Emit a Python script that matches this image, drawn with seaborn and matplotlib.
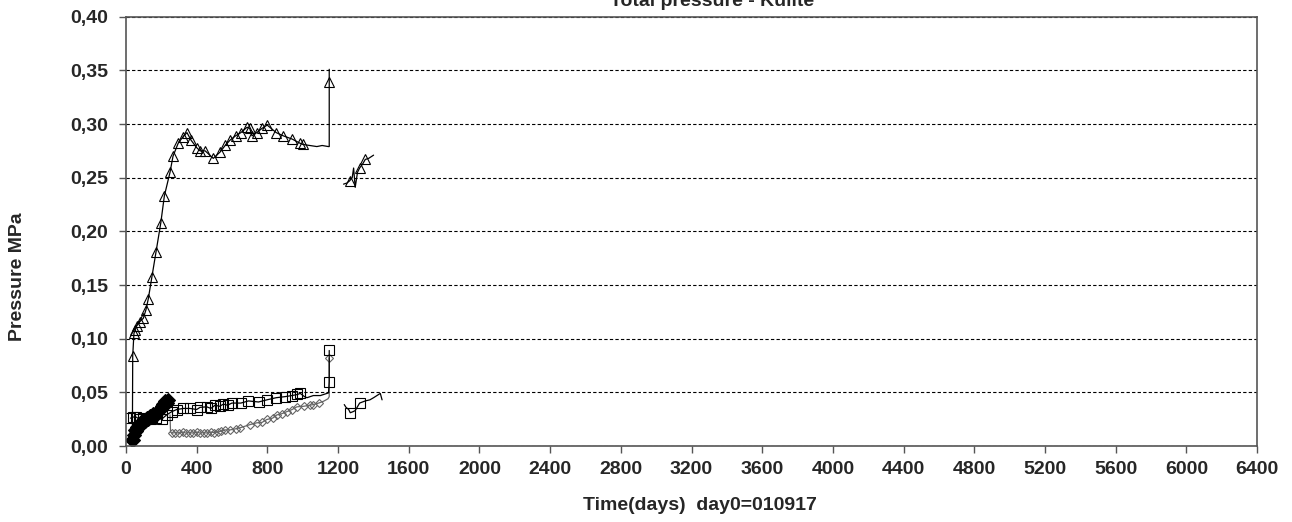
import numpy as np
import pandas as pd
import matplotlib
matplotlib.use("Agg")
import matplotlib.pyplot as plt
import seaborn as sns
from matplotlib.ticker import FuncFormatter, MultipleLocator

# --- data (days, MPa) ---
tri_days_1 = [36, 38, 45, 51, 61, 79, 98, 113, 126, 146, 170, 197, 217, 249, 266, 295, 322,
              345, 368, 400, 419, 448, 494, 533, 561, 589, 620, 650, 685, 700, 713, 740, 770,
              799, 850, 890, 940, 986, 1000, 1040, 1080, 1110, 1145, 1150, 1150, 1150]
tri_vals_1 = [0.005, 0.084, 0.105, 0.108, 0.112, 0.116, 0.119, 0.127, 0.137, 0.157, 0.181,
              0.208, 0.233, 0.255, 0.270, 0.282, 0.288, 0.292, 0.285, 0.278, 0.275, 0.275,
              0.268, 0.274, 0.280, 0.285, 0.289, 0.292, 0.297, 0.296, 0.289, 0.292, 0.296,
              0.299, 0.292, 0.289, 0.286, 0.282, 0.281, 0.280, 0.279, 0.280, 0.279, 0.279,
              0.339, 0.351]
tri_days_2 = [1231, 1250, 1265, 1280, 1288, 1297, 1310, 1322, 1340, 1354, 1373, 1401]
tri_vals_2 = [0.244, 0.245, 0.247, 0.250, 0.259, 0.241, 0.255, 0.259, 0.263, 0.267, 0.268, 0.271]

sq_days_1 = [25, 32, 40, 57, 75, 95, 115, 140, 170, 202, 230, 259, 287, 325, 362, 400, 419,
             457, 480, 504, 530, 551, 575, 599, 650, 693, 750, 797, 850, 900, 939, 970, 986,
             1010, 1024, 1060, 1100, 1146, 1150, 1150]
sq_vals_1 = [0.026, 0.026, 0.027, 0.027, 0.025, 0.026, 0.025, 0.025, 0.026, 0.025, 0.029,
             0.032, 0.034, 0.035, 0.035, 0.034, 0.036, 0.0365, 0.035, 0.038, 0.037, 0.039,
             0.038, 0.040, 0.040, 0.042, 0.041, 0.043, 0.045, 0.046, 0.047, 0.048, 0.049,
             0.046, 0.045, 0.047, 0.047, 0.0495, 0.060, 0.089]
sq_days_2 = [1235, 1245, 1260, 1269, 1285, 1297, 1322, 1354, 1380, 1401, 1439, 1449]
sq_vals_2 = [0.0386, 0.036, 0.034, 0.031, 0.032, 0.033, 0.040, 0.042, 0.043, 0.045, 0.049, 0.043]

dia_days = [249, 252, 260, 280, 300, 320, 340, 360, 380, 400, 420, 440, 460, 480, 500, 520,
            540, 560, 589, 620, 646, 703, 740, 770, 797, 830, 854, 880, 910, 940, 967, 1005,
            1040, 1061, 1090, 1118, 1143, 1150, 1150]
dia_vals = [0.029, 0.013, 0.012, 0.0125, 0.012, 0.013, 0.012, 0.0125, 0.012, 0.013, 0.012,
            0.0125, 0.012, 0.013, 0.0125, 0.013, 0.014, 0.015, 0.015, 0.016, 0.017, 0.020,
            0.0216, 0.022, 0.0247, 0.026, 0.029, 0.030, 0.032, 0.034, 0.0365, 0.037, 0.038,
            0.0386, 0.040, 0.0417, 0.044, 0.046, 0.082]

fd_days = [35, 38, 45, 50, 58, 65, 72, 80, 89, 98, 108, 118, 126, 135, 145, 155, 164, 175,
           185, 193, 203, 212, 221, 230, 240]
fd_vals = [0.006, 0.006, 0.010, 0.015, 0.014, 0.018, 0.020, 0.019, 0.022, 0.024, 0.023, 0.026,
           0.025, 0.028, 0.027, 0.030, 0.028, 0.032, 0.034, 0.034, 0.037, 0.039, 0.042, 0.040,
           0.043]

x_ticks = list(range(0, 6401, 400))
title = "Total pressure - Kulite"
x_label = "Time(days)  day0=010917"
y_label = "Pressure MPa"

sns.set_style("white")
plt.rcParams["font.family"] = ["Liberation Sans", "DejaVu Sans"]
plt.rcParams["font.weight"] = "bold"

fig = plt.figure(figsize=(12.92, 5.22), dpi=100)
ax = fig.add_axes([126 / 1292, 1 - 446 / 522, (1257 - 126) / 1292, (446 - 16.7) / 522])


def draw(days, vals, marked=None, **kw):
    df = pd.DataFrame({"day": days, "val": vals})
    if marked is not None:
        kw["markevery"] = [i for i, d in enumerate(days) if marked(i, d)]
    sns.lineplot(data=df, x="day", y="val", ax=ax, estimator=None, sort=False, **kw)


open_black = dict(color="black", lw=0.9, mfc="none", mec="black", mew=0.8)

draw(dia_days, dia_vals, marked=lambda i, d: i >= 2 and (d < 1100 or i == len(dia_days) - 1),
     marker="D", ms=4.5, color="#666666", lw=0.9, mfc="none", mec="#666666", mew=0.8)
draw(fd_days, fd_vals, marker="D", ms=7, color="black", lw=1.5, mfc="black", mec="black", mew=0.8)
draw(sq_days_1, sq_vals_1, marked=lambda i, d: d < 1000 and i != 1 or d == 1150,
     marker="s", ms=6.5, **open_black)
draw(sq_days_2, sq_vals_2, marked=lambda i, d: d in (1269, 1322), marker="s", ms=6.5, **open_black)
draw(tri_days_1, tri_vals_1,
     marked=lambda i, d: (0 < i and d <= 1000) or i == len(tri_days_1) - 2,
     marker="^", ms=6.5, **open_black)
draw(tri_days_2, tri_vals_2, marked=lambda i, d: d in (1265, 1322, 1354),
     marker="^", ms=6.5, **open_black)

ax.set_xlim(0, 6400)
ax.set_ylim(0, 0.40)
ax.set_xticks(x_ticks)
ax.yaxis.set_major_locator(MultipleLocator(0.05))
ax.yaxis.set_major_formatter(FuncFormatter(lambda v, p: f"{v:.2f}".replace(".", ",")))
ax.grid(axis="y", color="black", linestyle=(0, (3, 2)), linewidth=0.8)
ax.grid(axis="x", visible=False)
for s in ax.spines.values():
    s.set_color("#555555")
    s.set_linewidth(1.2)
ax.tick_params(axis="both", direction="out", length=5, width=1, color="#555555",
               labelsize=14, left=True, bottom=True)
ax.tick_params(axis="y", pad=8)
ax.tick_params(axis="x", pad=6)
for lab in ax.get_xticklabels() + ax.get_yticklabels():
    lab.set_fontweight("bold")
ax.set_xlabel("")
ax.set_ylabel("")

fig.text(700 / 1292, 1 - 505 / 522, x_label, ha="center", va="center", fontsize=14, fontweight="bold")
fig.text(18 / 1292, 1 - 277 / 522, y_label, ha="center", va="center", rotation=90,
         fontsize=14, fontweight="bold")
# the title sits partly above the top edge, as in the source picture
fig.text(712 / 1292, 1 - 6 / 522, title, ha="center", va="baseline", fontsize=14, fontweight="bold")

fig.savefig("out.png", dpi=100)
